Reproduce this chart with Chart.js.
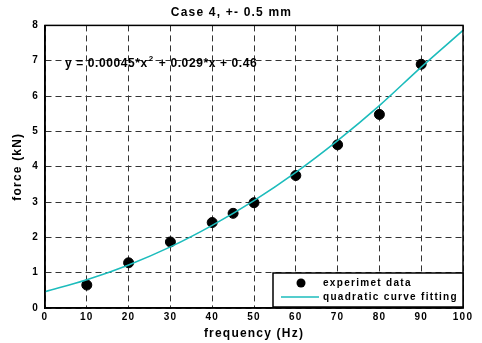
<!DOCTYPE html>
<html>
<head>
<meta charset="utf-8">
<script src="https://cdn.jsdelivr.net/npm/chart.js@4/dist/chart.umd.min.js"></script>
<style>
    html, body { margin: 0; padding: 0; background: #fff; }
    #wrap { width: 482px; height: 343px; }
</style>
</head>
<body>
<div id="wrap"><canvas id="forceChart"></canvas></div>
<script>
/* Case 4 force vs frequency, measured points + quadratic fit */
const freqData = [10, 20, 30, 40, 45, 50, 60, 70, 80, 90];
const forceData = [0.65, 1.28, 1.87, 2.42, 2.68, 2.98, 3.75, 4.62, 5.48, 6.90];
const fitFreq = [0, 10, 20, 30, 40, 50, 60, 70, 80, 90, 100];
const fitForce = [0.46, 0.80, 1.22, 1.73, 2.34, 3.04, 3.84, 4.74, 5.73, 6.82, 7.86];
const xTicks = [0, 10, 20, 30, 40, 50, 60, 70, 80, 90, 100];
const yTicks = [0, 1, 2, 3, 4, 5, 6, 7, 8];

const fitColor = "#1cbcbc";
const fontFam = "'Liberation Sans', Arial, sans-serif";

const matlabLook = {
    id: "matlabLook",
    beforeDraw(chart) {
        chart.ctx.letterSpacing = "1.2px";
    },
    afterDraw(chart) {
        const ctx = chart.ctx;
        const a = chart.chartArea;
        ctx.save();
        // box round the axes
        ctx.strokeStyle = "#000";
        ctx.lineWidth = 1.5;
        ctx.strokeRect(a.left, a.top, a.right - a.left, a.bottom - a.top);

        // equation text
        ctx.fillStyle = "#000";
        ctx.letterSpacing = "0.6px";
        ctx.font = "bold 12px " + fontFam;
        ctx.textBaseline = "middle";
        let x = 65, y = 64;
        const part1 = "y = 0.00045*x";
        ctx.fillText(part1, x, y);
        x += ctx.measureText(part1).width;
        ctx.font = "bold 8px " + fontFam;
        ctx.fillText("2", x + 1, y - 5);
        x += ctx.measureText("2").width + 2;
        ctx.font = "bold 12px " + fontFam;
        ctx.fillText(" + 0.029*x + 0.46", x, y);

        // legend box
        const lx = 273, ly = 273, lw = a.right - 273, lh = 34;
        ctx.fillStyle = "#fff";
        ctx.fillRect(lx, ly, lw, lh);
        ctx.strokeStyle = "#000";
        ctx.lineWidth = 1.5;
        ctx.strokeRect(lx, ly, lw, lh);
        ctx.fillStyle = "#000";
        ctx.beginPath();
        ctx.arc(301, 283, 4.5, 0, Math.PI * 2);
        ctx.fill();
        ctx.strokeStyle = fitColor;
        ctx.lineWidth = 1.5;
        ctx.beginPath();
        ctx.moveTo(281, 297);
        ctx.lineTo(319, 297);
        ctx.stroke();
        ctx.letterSpacing = "1.3px";
        ctx.font = "bold 10px " + fontFam;
        ctx.fillText("experimet data", 323, 283);
        ctx.fillText("quadratic curve fitting", 323, 297);
        ctx.restore();
    }
};

const ctx = document.getElementById("forceChart");

new Chart(ctx, {
    type: "scatter",
    data: {
        datasets: [{
            label: "quadratic curve fitting",
            type: "line",
            data: fitFreq.map((f, i) => ({ x: f, y: fitForce[i] })),
            borderColor: fitColor,
            borderWidth: 1.6,
            pointRadius: 0,
            fill: false,
            cubicInterpolationMode: "monotone"
        }, {
            label: "experimet data",
            data: freqData.map((f, i) => ({ x: f, y: forceData[i] })),
            backgroundColor: "#000",
            borderColor: "#000",
            pointRadius: 5,
            pointHoverRadius: 5
        }]
    },
    options: {
        responsive: true,
        maintainAspectRatio: false,
        animation: false,
        layout: {
            padding: { top: 0, right: 19, bottom: 0, left: 0 }
        },
        plugins: {
            legend: { display: false },
            tooltip: { enabled: false },
            title: {
                display: true,
                text: "Case 4, +- 0.5 mm",
                color: "#000",
                font: { family: fontFam, size: 12, weight: "bold" },
                padding: { top: 5, bottom: 6 }
            }
        },
        scales: {
            x: {
                type: "linear",
                min: 0,
                max: 100,
                afterFit(scale) { scale.height = 35; },
                afterBuildTicks(scale) { scale.ticks = xTicks.map(v => ({ value: v })); },
                ticks: {
                    color: "#000",
                    padding: 3,
                    maxRotation: 0,
                    font: { family: fontFam, size: 10, weight: "bold" }
                },
                grid: { color: "#333", lineWidth: 1, drawTicks: false },
                border: { display: true, color: "#000", width: 1.5, dash: [6, 4] },
                title: {
                    display: true,
                    text: "frequency (Hz)",
                    color: "#000",
                    padding: { top: 0, bottom: 2 },
                    font: { family: fontFam, size: 12, weight: "bold" }
                }
            },
            y: {
                min: 0,
                max: 8,
                afterFit(scale) { scale.width = 45; },
                afterBuildTicks(scale) { scale.ticks = yTicks.map(v => ({ value: v })); },
                ticks: {
                    color: "#000",
                    padding: 6,
                    font: { family: fontFam, size: 10, weight: "bold" }
                },
                grid: { color: "#333", lineWidth: 1, drawTicks: false },
                border: { display: true, color: "#000", width: 1.5, dash: [6, 4] },
                title: {
                    display: true,
                    text: "force (kN)",
                    color: "#000",
                    padding: { top: 10, bottom: 0 },
                    font: { family: fontFam, size: 12, weight: "bold" }
                }
            }
        }
    },
    plugins: [matlabLook]
});
</script>
</body>
</html>
